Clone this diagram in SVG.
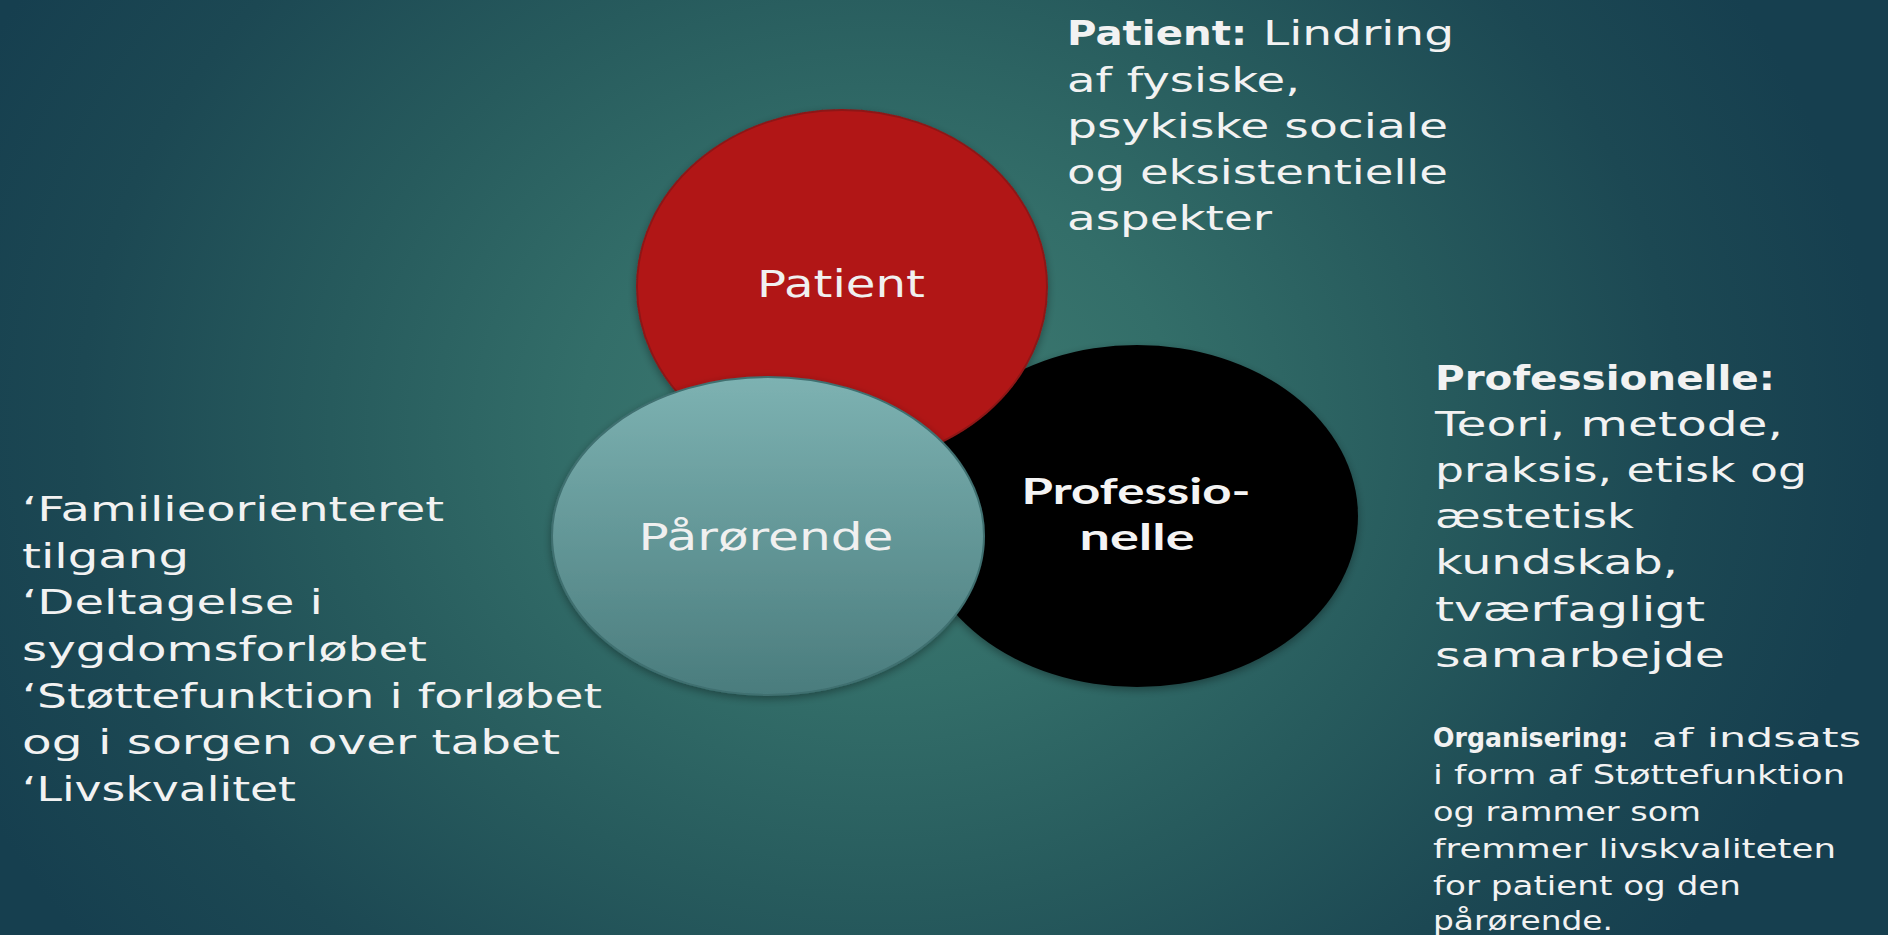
<svg xmlns="http://www.w3.org/2000/svg" width="1888" height="935" viewBox="0 0 1888 935">
<defs>
<radialGradient id="bg" gradientUnits="userSpaceOnUse" cx="880" cy="430" r="1000" gradientTransform="translate(880 430) scale(1 0.85) translate(-880 -430)">
<stop offset="0" stop-color="#3f7c72"/>
<stop offset="0.3" stop-color="#336e69"/>
<stop offset="0.55" stop-color="#275b5d"/>
<stop offset="0.8" stop-color="#1c4853"/>
<stop offset="1" stop-color="#163f4f"/>
</radialGradient>
<linearGradient id="tealFill" x1="0" y1="0" x2="0" y2="1">
<stop offset="0" stop-color="#7db2b2"/>
<stop offset="1" stop-color="#4a7c7d"/>
</linearGradient>
<filter id="shadow" x="-20%" y="-20%" width="140%" height="140%">
<feDropShadow dx="0" dy="3" stdDeviation="4" flood-color="#000" flood-opacity="0.35"/>
</filter>
</defs>
<style>
.t{font-family:"DejaVu Sans","Liberation Sans",sans-serif;fill:#f2f2f2;font-size:33px}
.b{font-weight:bold}
.s{font-size:26px}
.lbl{font-family:"DejaVu Sans","Liberation Sans",sans-serif;fill:#f0f0f0;font-size:37px;text-anchor:middle}
.lblb{font-family:"Lato","Open Sans",sans-serif;fill:#f4f4f4;font-size:36px;font-weight:bold;text-anchor:middle}
</style>
<rect x="0" y="0" width="1888" height="935" fill="url(#bg)"/>
<g id="connectors"/>
<g id="node-professionelle">
<ellipse cx="1137" cy="516" rx="221" ry="171" fill="#000" filter="url(#shadow)"/>
<text class="lblb" x="1136" y="504" textLength="229" lengthAdjust="spacingAndGlyphs">Professio-</text>
<text class="lblb" x="1137" y="550" textLength="115" lengthAdjust="spacingAndGlyphs">nelle</text>
</g>
<g id="node-patient">
<ellipse cx="842" cy="287" rx="205" ry="177" fill="#b11414" stroke="#8e1717" stroke-width="2" filter="url(#shadow)"/>
<text class="lbl" x="841" y="297" textLength="168" lengthAdjust="spacingAndGlyphs">Patient</text>
</g>
<g id="node-parorende">
<ellipse cx="768" cy="536" rx="216" ry="159" fill="url(#tealFill)" stroke="#3f6f70" stroke-width="2" filter="url(#shadow)"/>
<text class="lbl" x="766" y="550" textLength="255" lengthAdjust="spacingAndGlyphs">Pårørende</text>
</g>
<g id="text-patient">
<text class="t b" x="1067" y="45" textLength="180" lengthAdjust="spacingAndGlyphs">Patient:</text>
<text class="t" x="1263" y="45" textLength="191" lengthAdjust="spacingAndGlyphs">Lindring</text>
<text class="t" x="1067" y="92" textLength="233" lengthAdjust="spacingAndGlyphs">af fysiske,</text>
<text class="t" x="1067" y="138" textLength="381" lengthAdjust="spacingAndGlyphs">psykiske sociale</text>
<text class="t" x="1067" y="184" textLength="381" lengthAdjust="spacingAndGlyphs">og eksistentielle</text>
<text class="t" x="1067" y="230" textLength="205" lengthAdjust="spacingAndGlyphs">aspekter</text>
</g>
<g id="text-professionelle">
<text class="t b" x="1435" y="390" textLength="340" lengthAdjust="spacingAndGlyphs">Professionelle:</text>
<text class="t" x="1435" y="436" textLength="348" lengthAdjust="spacingAndGlyphs">Teori, metode,</text>
<text class="t" x="1435" y="482" textLength="372" lengthAdjust="spacingAndGlyphs">praksis, etisk og</text>
<text class="t" x="1435" y="528" textLength="199" lengthAdjust="spacingAndGlyphs">æstetisk</text>
<text class="t" x="1435" y="574" textLength="243" lengthAdjust="spacingAndGlyphs">kundskab,</text>
<text class="t" x="1435" y="621" textLength="270" lengthAdjust="spacingAndGlyphs">tværfagligt</text>
<text class="t" x="1435" y="667" textLength="290" lengthAdjust="spacingAndGlyphs">samarbejde</text>
</g>
<g id="text-organisering">
<text class="t s b" x="1433" y="747" textLength="195" lengthAdjust="spacingAndGlyphs">Organisering:</text>
<text class="t s" x="1652" y="747" textLength="209" lengthAdjust="spacingAndGlyphs">af indsats</text>
<text class="t s" x="1433" y="784" textLength="412" lengthAdjust="spacingAndGlyphs">i form af Støttefunktion</text>
<text class="t s" x="1433" y="821" textLength="268" lengthAdjust="spacingAndGlyphs">og rammer som</text>
<text class="t s" x="1433" y="858" textLength="403" lengthAdjust="spacingAndGlyphs">fremmer livskvaliteten</text>
<text class="t s" x="1433" y="895" textLength="308" lengthAdjust="spacingAndGlyphs">for patient og den</text>
<text class="t s" x="1433" y="930" textLength="180" lengthAdjust="spacingAndGlyphs">pårørende.</text>
</g>
<g id="text-parorende">
<text class="t" x="22" y="521" textLength="422" lengthAdjust="spacingAndGlyphs">‘Familieorienteret</text>
<text class="t" x="22" y="568" textLength="167" lengthAdjust="spacingAndGlyphs">tilgang</text>
<text class="t" x="22" y="614" textLength="301" lengthAdjust="spacingAndGlyphs">‘Deltagelse i</text>
<text class="t" x="22" y="661" textLength="405" lengthAdjust="spacingAndGlyphs">sygdomsforløbet</text>
<text class="t" x="22" y="708" textLength="580" lengthAdjust="spacingAndGlyphs">‘Støttefunktion i forløbet</text>
<text class="t" x="22" y="754" textLength="538" lengthAdjust="spacingAndGlyphs">og i sorgen over tabet</text>
<text class="t" x="22" y="801" textLength="274" lengthAdjust="spacingAndGlyphs">‘Livskvalitet</text>
</g>
</svg>
